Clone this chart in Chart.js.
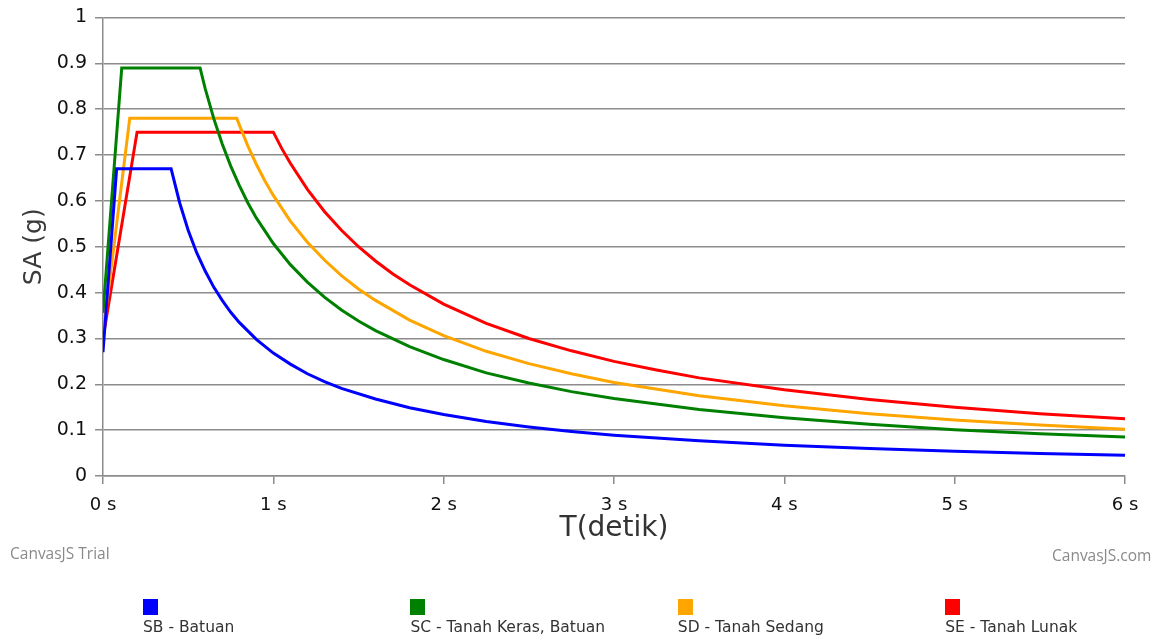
<!DOCTYPE html>
<html>
<head>
<meta charset="utf-8">
<script src="https://cdn.jsdelivr.net/npm/chart.js@4/dist/chart.umd.min.js"></script>
<style>
  body { margin: 0; background: #fff; }
  #wrap { position: relative; width: 1165px; height: 642px; }
  #grafik { position: absolute; left: 0; top: 0; }
  .watermark { position: absolute; font-family: "Open Sans", sans-serif; font-size: 15.5px; color: #8a8a8a; }
  #legenda { position: absolute; left: 0; top: 599px; width: 1165px; height: 43px; font-family: "DejaVu Sans", sans-serif; font-size: 15.5px; color: #333; }
  .item { position: absolute; top: 0; }
  .item .kotak { width: 15px; height: 16px; }
  .item .teks { margin-top: 3px; white-space: nowrap; }
</style>
</head>
<body>
<div id="wrap">
  <canvas id="grafik" width="1165" height="642"></canvas>
  <div class="watermark" style="left:10px; top:542px;">CanvasJS Trial</div>
  <div class="watermark" style="left:1052px; top:544px;">CanvasJS.com</div>
  <div id="legenda"></div>
</div>
<script>
// data spektrum respons
const namaSeri = ['SB - Batuan', 'SC - Tanah Keras, Batuan', 'SD - Tanah Sedang', 'SE - Tanah Lunak'];
const warnaSeri = ['#0000ff', '#008000', '#ffa500', '#ff0000'];

const tSB  = [0, 0.08, 0.40, 0.45, 0.50, 0.55, 0.60, 0.65, 0.70, 0.75, 0.80, 0.90, 1.0, 1.1, 1.2, 1.3, 1.4, 1.6, 1.8, 2.0, 2.25, 2.5, 2.75, 3.0, 3.5, 4.0, 4.5, 5.0, 5.5, 6.0];
const saSB = [0.27, 0.67, 0.67, 0.596, 0.536, 0.487, 0.447, 0.412, 0.383, 0.357, 0.335, 0.298, 0.268, 0.244, 0.223, 0.206, 0.191, 0.168, 0.149, 0.134, 0.119, 0.107, 0.097, 0.089, 0.077, 0.067, 0.060, 0.054, 0.049, 0.045];

const tSC  = [0, 0.11, 0.57, 0.60, 0.65, 0.70, 0.75, 0.80, 0.85, 0.90, 1.0, 1.1, 1.2, 1.3, 1.4, 1.5, 1.6, 1.8, 2.0, 2.25, 2.5, 2.75, 3.0, 3.5, 4.0, 4.5, 5.0, 5.5, 6.0];
const saSC = [0.356, 0.89, 0.89, 0.845, 0.78, 0.724, 0.676, 0.634, 0.596, 0.563, 0.507, 0.461, 0.423, 0.39, 0.362, 0.338, 0.317, 0.282, 0.254, 0.225, 0.203, 0.184, 0.169, 0.145, 0.127, 0.113, 0.101, 0.092, 0.085];

const tSD  = [0, 0.157, 0.785, 0.85, 0.90, 0.95, 1.0, 1.1, 1.2, 1.3, 1.4, 1.5, 1.6, 1.8, 2.0, 2.25, 2.5, 2.75, 3.0, 3.5, 4.0, 4.5, 5.0, 5.5, 6.0];
const saSD = [0.31, 0.78, 0.78, 0.72, 0.68, 0.644, 0.612, 0.556, 0.51, 0.471, 0.437, 0.408, 0.383, 0.34, 0.306, 0.272, 0.245, 0.223, 0.204, 0.175, 0.153, 0.136, 0.122, 0.111, 0.102];

const tSE  = [0, 0.20, 1.0, 1.05, 1.1, 1.2, 1.3, 1.4, 1.5, 1.6, 1.7, 1.8, 2.0, 2.25, 2.5, 2.75, 3.0, 3.25, 3.5, 4.0, 4.5, 5.0, 5.5, 6.0];
const saSE = [0.30, 0.75, 0.75, 0.714, 0.682, 0.625, 0.577, 0.536, 0.50, 0.469, 0.441, 0.417, 0.375, 0.333, 0.30, 0.273, 0.25, 0.231, 0.214, 0.188, 0.167, 0.15, 0.136, 0.125];

const xTicks = [0, 1, 2, 3, 4, 5, 6];
const yTicks = [0, 0.1, 0.2, 0.3, 0.4, 0.5, 0.6, 0.7, 0.8, 0.9, 1];

function gabung(t, sa) {
    return t.map((v, i) => ({ x: v, y: sa[i] }));
}

const seri = [gabung(tSB, saSB), gabung(tSC, saSC), gabung(tSD, saSD), gabung(tSE, saSE)];

const ctx = document.getElementById('grafik').getContext('2d');
const grafik = new Chart(ctx, {
    type: 'line',
    data: {
        datasets: seri.map((d, i) => ({
            label: namaSeri[i],
            data: d,
            borderColor: warnaSeri[i],
            backgroundColor: warnaSeri[i],
            borderWidth: 3,
            pointRadius: 0,
            fill: false,
            tension: 0
        }))
    },
    options: {
        responsive: false,
        animation: false,
        layout: { padding: { left: 0, top: 17, right: 40, bottom: 96 } },
        plugins: {
            legend: { display: false },
            tooltip: { enabled: false }
        },
        scales: {
            x: {
                type: 'linear',
                min: 0,
                max: 6,
                afterBuildTicks: s => { s.ticks = xTicks.map(v => ({ value: v })); },
                afterFit: s => { s.height = 70; },
                ticks: {
                    callback: v => v + ' s',
                    color: '#111',
                    font: { family: 'DejaVu Sans', size: 18 },
                    padding: 11,
                    maxRotation: 0
                },
                grid: { drawOnChartArea: false, drawTicks: true, tickLength: 8, color: '#8c8c8c', lineWidth: 1.5 },
                border: { color: '#8c8c8c', width: 1.5 },
                title: {
                    display: true,
                    text: 'T(detik)',
                    color: '#333',
                    font: { family: 'DejaVu Sans', size: 28 },
                    padding: { top: 2, bottom: 0 }
                }
            },
            y: {
                min: 0,
                max: 1,
                afterBuildTicks: s => { s.ticks = yTicks.map(v => ({ value: v })); },
                afterFit: s => { s.width = 103; },
                ticks: {
                    callback: v => String(+v.toFixed(1)),
                    color: '#111',
                    font: { family: 'DejaVu Sans', size: 19, lineHeight: 1 },
                    padding: 8
                },
                grid: { color: '#8c8c8c', lineWidth: 1.5, tickLength: 8 },
                border: { color: '#8c8c8c', width: 1.5 },
                title: {
                    display: true,
                    text: 'SA (g)',
                    color: '#3a3a3a',
                    font: { family: 'DejaVu Sans', size: 25 },
                    padding: { top: 19, bottom: 0 }
                }
            }
        }
    }
});

// legenda di bawah: kotak di atas teks
const legenda = document.getElementById('legenda');
grafik.data.datasets.forEach((ds, i) => {
    const el = document.createElement('div');
    el.className = 'item';
    el.style.left = (143 + i * 267.4) + 'px';
    el.innerHTML = '<div class="kotak" style="background:' + ds.borderColor + '"></div><div class="teks">' + ds.label + '</div>';
    legenda.appendChild(el);
});
</script>
</body>
</html>
